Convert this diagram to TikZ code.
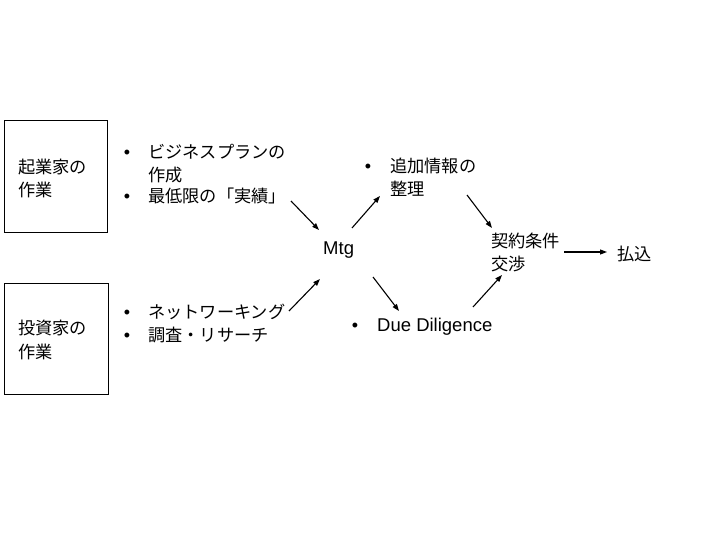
\documentclass[tikz,border=0pt]{standalone}
\usepackage{fontspec}
\setmainfont{Liberation Sans}
\newfontfamily\cjk{Noto Sans CJK JP}
\usetikzlibrary{arrows.meta}
\tikzset{
  lat/.style={inner sep=0pt, anchor=base west, font=\fontsize{18.5}{22}\selectfont},
  jp/.style={inner sep=0pt, anchor=base west, font=\cjk\fontsize{17.2}{22}\selectfont},
  bul/.style={inner sep=0pt, anchor=base, font=\fontsize{18}{22}\selectfont},
  box/.style={draw, line width=0.9pt},
  arr/.style={line width=1.1pt, -{Triangle[length=7pt,width=5pt]}}
}
\begin{document}
\begin{tikzpicture}[x=1pt,y=-1pt]
\useasboundingbox (0,0) rectangle (720,540);
% boxes
\draw[box] (4,120) rectangle (107,232);
\draw[box] (4,283) rectangle (108,394);
\node[jp] (k1) at (18,173.5) {起業家の};
\node[jp] (k2) at (18,196.5) {作業};
\node[jp] (t1) at (18,334.5) {投資家の};
\node[jp] (t2) at (18,358.5) {作業};
% entrepreneur bullets
\node[bul] (b1) at (127,158.5) {•};
\node[jp] (e1) at (148,158.5) {ビジネスプランの};
\node[jp] (e2) at (148,181.5) {作成};
\node[bul] (b2) at (127,202.5) {•};
\node[jp] (e3) at (148,202.5) {最低限の「実績」};
% investor bullets
\node[bul] (b3) at (127,318.5) {•};
\node[jp] (i1) at (148,318.5) {ネットワーキング};
\node[bul] (b4) at (127,341.5) {•};
\node[jp] (i2) at (148,341.5) {調査・リサーチ};
% Mtg
\node[lat] (mtg) at (323,254.5) {Mtg};
% additional info
\node[bul] (b5) at (368,172.5) {•};
\node[jp] (a1) at (390,172.5) {追加情報の};
\node[jp] (a2) at (390,195.5) {整理};
% due diligence
\node[bul] (b6) at (355,331.5) {•};
\node[lat] (dd) at (377,331.5) {Due Diligence};
% contract
\node[jp] (c1) at (491,247.5) {契約条件};
\node[jp] (c2) at (491,270) {交渉};
% payment
\node[jp] (pay) at (617,260.5) {払込};
% arrow endpoints
\coordinate (p1s) at (291,201); \coordinate (p1e) at (319,230);
\coordinate (p2s) at (289,311); \coordinate (p2e) at (320,279);
\coordinate (p3s) at (352,228); \coordinate (p3e) at (380,196);
\coordinate (p4s) at (373,277); \coordinate (p4e) at (399,311);
\coordinate (p5s) at (467,195); \coordinate (p5e) at (492,228);
\coordinate (p6s) at (473,307); \coordinate (p6e) at (502,275);
\coordinate (p7s) at (564,252); \coordinate (p7e) at (607,252);
\draw[arr] (p1s) -- (p1e);
\draw[arr] (p2s) -- (p2e);
\draw[arr] (p3s) -- (p3e);
\draw[arr] (p4s) -- (p4e);
\draw[arr] (p5s) -- (p5e);
\draw[arr] (p6s) -- (p6e);
\draw[arr] (p7s) -- (p7e);
\end{tikzpicture}
\end{document}
